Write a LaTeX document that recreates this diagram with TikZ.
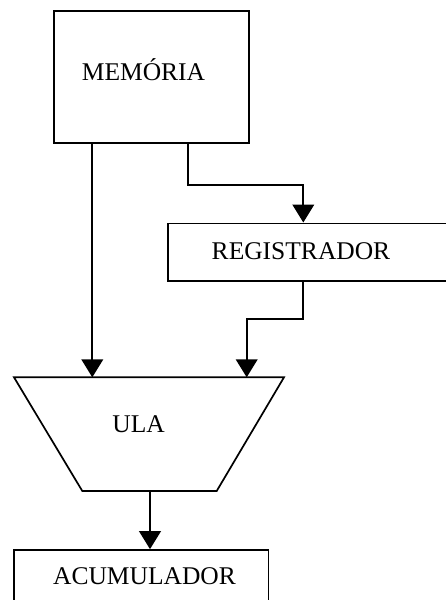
\documentclass[tikz,border=0pt]{standalone}
\usepackage{fontspec}
\setmainfont{Liberation Serif}
\usetikzlibrary{arrows.meta}
\tikzset{
  box/.style={draw=black, line width=1.7pt, fill=none, inner sep=0pt},
  lbl/.style={anchor=base, inner sep=0pt, font=\fontsize{25.5pt}{30pt}\selectfont},
  arr/.style={draw=black, line width=1.7pt, -{Triangle[width=21.7pt,length=18pt]}},
  wire/.style={draw=black, line width=1.7pt},
}
\begin{document}
\begin{tikzpicture}[x=1pt,y=-1pt]
\useasboundingbox (0,0) rectangle (446,600);
\clip (0,0) rectangle (446,600);
\fill[white] (0,0) rectangle (446,600);

% storage blocks
\node[box, minimum width=195pt, minimum height=132pt] (mem) at (151.5,77.3) {};
\node[box, minimum width=300pt, minimum height=57.7pt] (reg) at (318.3,252.2) {};
\node[box, minimum width=254.3pt, minimum height=65pt] (acc) at (141.2,582.5) {};

% arithmetic unit outline
\coordinate (ulaTL) at (14,377.3);
\coordinate (ulaTR) at (284,377.3);
\coordinate (ulaBR) at (216.7,491);
\coordinate (ulaBL) at (82.3,491);
\draw[wire, line join=miter] (ulaTL) -- (ulaTR) -- (ulaBR) -- (ulaBL) -- cycle;

% labels
\node[lbl] (memtxt) at (143.5,80) {MEMÓRIA};
\node[lbl] (regtxt) at (301,259.3) {REGISTRADOR};
\node[lbl] (ula) at (138.7,432.7) {ULA};
\node[lbl] (acctxt) at (144.5,584.3) {ACUMULADOR};

% routing points
\coordinate (m1) at (92.3,0);
\coordinate (m2) at (188.3,185);
\coordinate (r1) at (303.3,185);
\coordinate (r2) at (302.7,319.3);
\coordinate (u2) at (246.7,319.3);
\coordinate (a1) at (150,0);

% connections
\draw[arr] (mem.south -| m1) -- (ulaTL -| m1);
\draw[arr] (mem.south -| m2) -- (m2) -- (r1) -- (reg.north -| r1);
\draw[arr] (reg.south -| r2) -- (r2) -- (u2) -- (ulaTL -| u2);
\draw[arr] (ulaBL -| a1) -- (acc.north -| a1);
\end{tikzpicture}
\end{document}
